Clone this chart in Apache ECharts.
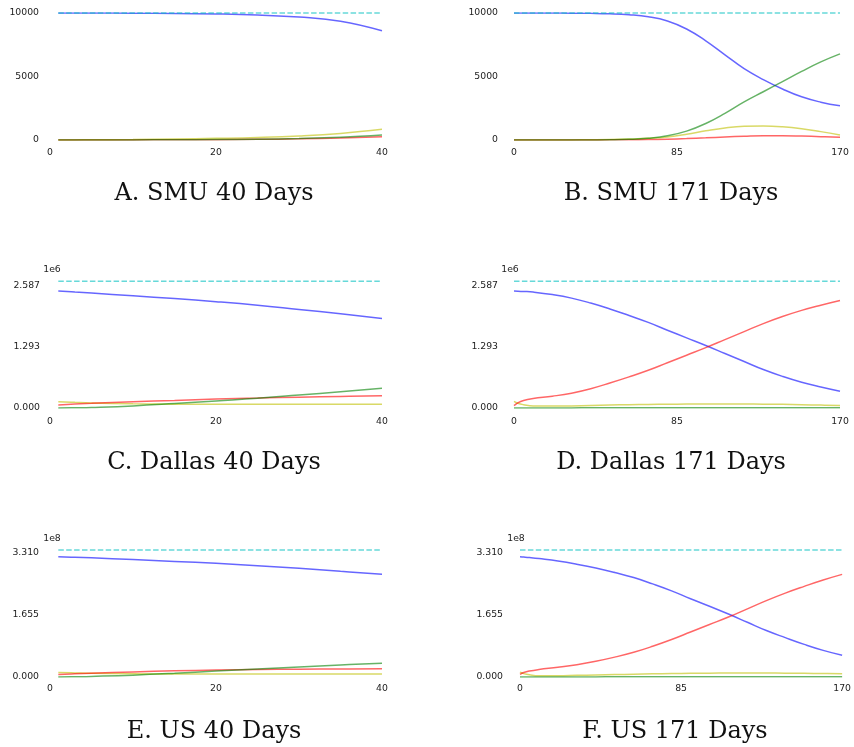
<!DOCTYPE html>
<html>
<head>
<meta charset="utf-8">
<script src="https://cdn.jsdelivr.net/npm/echarts@6/dist/echarts.min.js"></script>
<style>
  html, body { margin: 0; padding: 0; background: #fff; }
  #chart { width: 854px; height: 747px; }
</style>
</head>
<body>
<div id="chart"></div>
<script>
// x values (days)
var daysShort = [1, 3, 5, 10, 15, 20, 25, 30, 35, 40];
var daysLong = [0, 2, 5, 10, 20, 30, 40, 50, 60, 70, 80, 90, 100, 110, 120, 130, 140, 150, 160, 170];

var panelTitles = ['A. SMU 40 Days', 'B. SMU 171 Days', 'C. Dallas 40 Days', 'D. Dallas 171 Days', 'E. US 40 Days', 'F. US 171 Days'];

// population line (dashed)
var popSmu = 10000;
var popDallas = 2690000;
var popUs = 339000000;

// y tick tops
var tickTopSmu = 10000;
var tickTopDallas = 2586800;
var tickTopUs = 331000000;

// A. SMU 40 days
var smu40S = [10000, 9998, 9995, 9985, 9965, 9925, 9840, 9680, 9350, 8600];
var smu40E = [5, 8, 15, 40, 80, 130, 200, 320, 520, 840];
var smu40I = [0, 1, 3, 8, 15, 28, 50, 90, 160, 260];
var smu40R = [0, 1, 2, 8, 18, 35, 65, 120, 220, 400];

// B. SMU 171 days
var smu171S = [10000, 10000, 10000, 9999, 9997, 9990, 9975, 9940, 9860, 9700, 9370, 8740, 7810, 6710, 5620, 4760, 4020, 3400, 2980, 2690];
var smu171E = [0, 1, 2, 3, 5, 8, 15, 30, 70, 130, 240, 450, 720, 950, 1080, 1100, 1040, 890, 660, 400];
var smu171I = [0, 0, 0, 1, 2, 3, 5, 10, 20, 35, 65, 110, 170, 240, 300, 340, 340, 310, 260, 210];
var smu171R = [0, 0, 0, 0, 1, 2, 5, 15, 50, 140, 330, 700, 1300, 2100, 3000, 3800, 4600, 5400, 6150, 6780];

// C. Dallas 40 days
var dal40S = [2480000, 2458000, 2437000, 2380000, 2320000, 2255000, 2180000, 2090000, 2000000, 1900000];
var dal40E = [135000, 120000, 108000, 90000, 82000, 78000, 77000, 77000, 77000, 78000];
var dal40I = [65000, 85000, 100000, 135000, 160000, 190000, 210000, 230000, 245000, 260000];
var dal40R = [0, 5000, 12000, 45000, 95000, 150000, 205000, 275000, 345000, 420000];

// D. Dallas 171 days
var dal171S = [2480000, 2478000, 2472000, 2458000, 2405000, 2330000, 2225000, 2100000, 1960000, 1815000, 1650000, 1487000, 1325000, 1155000, 985000, 815000, 670000, 545000, 445000, 355000];
var dal171E = [140000, 100000, 70000, 42000, 40000, 45000, 55000, 63000, 70000, 75000, 80000, 83000, 85000, 86000, 85000, 82000, 77000, 70000, 62000, 55000];
var dal171I = [50000, 110000, 160000, 200000, 250000, 315000, 410000, 530000, 660000, 800000, 960000, 1120000, 1280000, 1450000, 1620000, 1790000, 1940000, 2070000, 2180000, 2280000];
var dal171R = [0, 200, 500, 900, 1800, 2600, 3300, 3900, 4400, 4800, 5100, 5300, 5500, 5600, 5700, 5800, 5800, 5900, 5900, 6000];

// E. US 40 days
var us40S = [321000000, 319500000, 318000000, 313500000, 308500000, 303500000, 297000000, 290000000, 282000000, 274000000];
var us40E = [12000000, 10800000, 9800000, 8500000, 8000000, 7800000, 7800000, 7800000, 7900000, 8000000];
var us40I = [7000000, 8500000, 10000000, 13500000, 16500000, 18500000, 20000000, 20800000, 21500000, 22000000];
var us40R = [0, 700000, 1600000, 5000000, 10000000, 16000000, 21500000, 27000000, 32000000, 37000000];

// F. US 171 days
var us171S = [321000000, 320200000, 318800000, 316000000, 309500000, 301000000, 291000000, 279000000, 265500000, 248500000, 230000000, 209000000, 189000000, 168000000, 146000000, 124000000, 105000000, 87000000, 71000000, 58000000];
var us171E = [13000000, 9000000, 6000000, 3500000, 3500000, 4500000, 5500000, 6500000, 7500000, 8500000, 9200000, 9800000, 10300000, 10600000, 10700000, 10600000, 10300000, 9800000, 9200000, 8600000];
var us171I = [7000000, 12000000, 16000000, 20000000, 26000000, 33000000, 42000000, 53000000, 66000000, 82000000, 100000000, 120000000, 140000000, 160000000, 182000000, 204000000, 224000000, 242000000, 259000000, 274000000];
var us171R = [0, 20000, 50000, 90000, 180000, 260000, 330000, 390000, 440000, 480000, 510000, 530000, 550000, 560000, 570000, 580000, 580000, 590000, 590000, 600000];

function pairs(xs, ys) {
  return xs.map(function (x, i) { return [x, ys[i]]; });
}

var panels = [
  { days: daysShort, S: smu40S, E: smu40E, I: smu40I, R: smu40R, pop: popSmu, top: tickTopSmu, xMax: 40,
    grid: { left: 50, top: 13, width: 332, height: 127 }, yMargin: 11, xMargin: 8, exp: null, title: [214, 182] },
  { days: daysLong, S: smu171S, E: smu171E, I: smu171I, R: smu171R, pop: popSmu, top: tickTopSmu, xMax: 170,
    grid: { left: 514, top: 13, width: 326, height: 127 }, yMargin: 16, xMargin: 8, exp: null, title: [671, 182] },
  { days: daysShort, S: dal40S, E: dal40E, I: dal40I, R: dal40R, pop: popDallas, top: tickTopDallas, xMax: 40,
    grid: { left: 50, top: 286, width: 332, height: 122 }, yMargin: 10, xMargin: 9, exp: 6, title: [214, 451] },
  { days: daysLong, S: dal171S, E: dal171E, I: dal171I, R: dal171R, pop: popDallas, top: tickTopDallas, xMax: 170,
    grid: { left: 514, top: 286, width: 326, height: 122 }, yMargin: 16, xMargin: 9, exp: 6, title: [671, 451] },
  { days: daysShort, S: us40S, E: us40E, I: us40I, R: us40R, pop: popUs, top: tickTopUs, xMax: 40,
    grid: { left: 50, top: 553, width: 332, height: 124 }, yMargin: 11, xMargin: 7, exp: 8, title: [214, 720] },
  { days: daysLong, S: us171S, E: us171E, I: us171I, R: us171R, pop: popUs, top: tickTopUs, xMax: 170,
    grid: { left: 520, top: 553, width: 328, height: 124 }, yMargin: 17, xMargin: 7, exp: 8, title: [675, 720] }
];

var tickFont = { fontFamily: 'DejaVu Sans', fontSize: 9.3, color: '#222' };

var grids = [], xAxes = [], yAxes = [], series = [], titles = [];

panels.forEach(function (p, k) {
  grids.push(p.grid);
  titles.push({
    text: panelTitles[k], left: p.title[0], top: p.title[1], textAlign: 'center', padding: 0,
    textStyle: { fontFamily: 'DejaVu Serif', fontSize: 24, fontWeight: 'normal', color: '#111' }
  });
  xAxes.push({
    type: 'value', gridIndex: k, min: 0, max: p.xMax, interval: p.xMax / 2,
    axisLine: { show: false }, axisTick: { show: false }, splitLine: { show: false },
    axisLabel: Object.assign({ margin: p.xMargin, showMaxLabel: true, showMinLabel: true }, tickFont)
  });
  var yAx = {
    type: 'value', gridIndex: k, min: 0, max: p.top, interval: p.top / 2,
    axisLine: { show: false }, axisTick: { show: false }, splitLine: { show: false },
    axisLabel: Object.assign({
      margin: p.yMargin,
      formatter: (function (e) {
        return function (v) {
          if (!e) return String(Math.round(v));
          var scale = Math.pow(10, e);
          return (Math.round(v / scale * 1000) / 1000).toFixed(3);
        };
      })(p.exp)
    }, tickFont)
  };
  if (p.exp) {
    yAx.name = '1e' + p.exp;
    yAx.nameLocation = 'end';
    yAx.nameGap = k === 4 || k === 5 ? 14 : 16;
    yAx.nameTextStyle = Object.assign({ align: 'center', verticalAlign: 'middle',
      padding: k % 2 === 1 ? [0, 8, 0, 0] : [0, 0, 0, 4] }, tickFont);
  }
  yAxes.push(yAx);

  function line(ys, color, extra) {
    var s = {
      type: 'line', xAxisIndex: k, yAxisIndex: k, data: pairs(p.days, ys),
      showSymbol: false, smooth: 0.45, animation: false, silent: true,
      lineStyle: { color: color, width: 1.5, opacity: 0.6 }
    };
    return Object.assign(s, extra || {});
  }
  series.push(line(p.S, '#0000ff'));
  series.push(line(p.E, '#bfbf00'));
  series.push(line(p.I, '#ff0000'));
  series.push(line(p.R, '#008000'));
  var popLine = p.days.map(function () { return p.pop; });
  series.push(line(popLine, '#00bfbf', {
    smooth: false, clip: false,
    lineStyle: { color: '#00bfbf', width: 1.5, opacity: 0.6, type: [5.5, 2.4] }
  }));
});

var chart = echarts.init(document.getElementById('chart'));
chart.setOption({
  backgroundColor: '#fff',
  animation: false,
  title: titles,
  grid: grids,
  xAxis: xAxes,
  yAxis: yAxes,
  series: series
});
</script>
</body>
</html>
